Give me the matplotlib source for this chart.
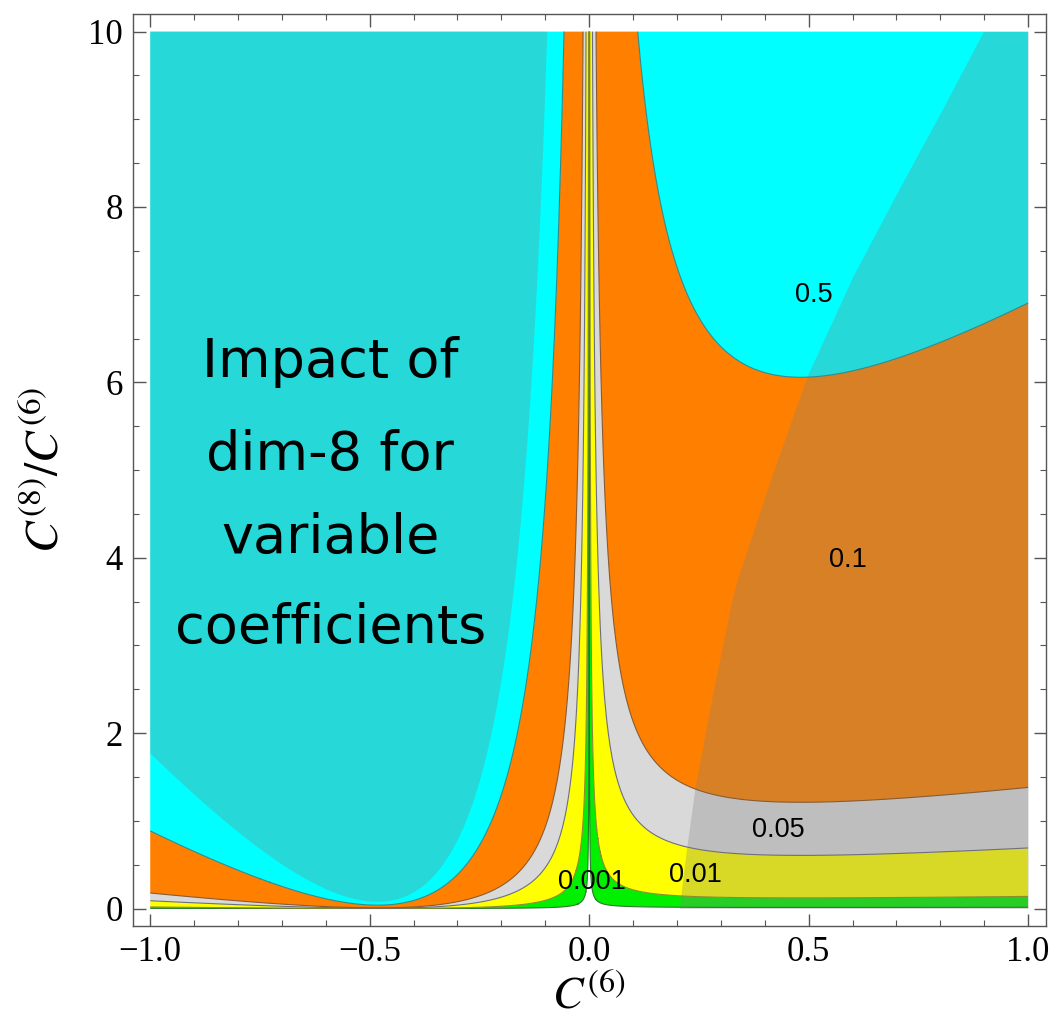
import numpy as np
import matplotlib
matplotlib.use("Agg")
import matplotlib.pyplot as plt
from matplotlib.ticker import MultipleLocator, FuncFormatter

plt.rcParams['mathtext.fontset'] = 'stix'

# impact of the dim-8 term:
# f = |C6| * r / (e0 + e1*C6 + e2*C6^2), r = C8/C6
e0, e1, e2 = 1.47, 6.02, 6.32

levels = [0.001, 0.01, 0.05, 0.1, 0.5]
level_labels = ['0.001', '0.01', '0.05', '0.1', '0.5']
fill_colors = ['#00f000', '#ffff00', '#d9d9d9', '#ff8000', '#00ffff']
line_colors = ['#2c7a2c', '#8c8c2a', '#6e6e7e', '#8a5a32', '#2f8a8a']
label_x = [0.007, 0.243, 0.43, 0.59, 0.511]
label_y = [0.30, 0.38, 0.89, 3.97, 7.0]

# shaded region on the left: f above this value
shade_level = 1.0
# shaded region on the right: boundary
shade_x = [0.205, 0.2224, 0.2413, 0.279, 0.325, 0.3365, 0.4126, 0.496, 0.60, 0.70, 0.80, 0.898]
shade_y = [0.0, 0.70, 1.385, 2.39, 3.516, 3.74, 4.886, 6.065, 7.2, 8.15, 9.07, 10.0]

note_lines = ['Impact of', 'dim-8 for', 'variable', 'coefficients']
note_y = [6.06, 5.0, 4.05, 3.03]

# grid, denser near C6 = 0 and r = 0
x = np.unique(np.concatenate([np.linspace(-1, 1, 1601), np.linspace(-0.03, 0.03, 601)]))
y = np.unique(np.concatenate([np.linspace(0, 10, 801), np.linspace(0, 0.4, 201)]))
X, Y = np.meshgrid(x, y)
F = np.abs(X) * Y / (e0 + e1 * X + e2 * X**2)

fig = plt.figure(figsize=(10.53, 10.27), dpi=100)
ax = fig.add_axes([0.126, 0.0983, 0.867, 0.888])

ax.contourf(X, Y, F, levels=levels + [F.max() + 1], colors=fill_colors, antialiased=True)
ax.contour(X, Y, F, levels=levels, colors=line_colors, linewidths=0.8)

# darker overlay
Fl = np.where(X < 0, F, 0)
ax.contourf(X, Y, Fl, levels=[shade_level, F.max() + 1], colors=['0.5'], alpha=0.3, antialiased=True)
ax.fill_betweenx(shade_y, shade_x, 1.0, color='0.5', alpha=0.3, lw=0)

for lab, lx, ly in zip(level_labels, label_x, label_y):
    ax.text(lx, ly, lab, ha='center', va='center', fontsize=19.5, family='Liberation Sans')

for line, ny in zip(note_lines, note_y):
    ax.text(-0.59, ny, line, ha='center', va='baseline', fontsize=39, family='DejaVu Sans')

ax.set_xlim(-1.04, 1.04)
ax.set_ylim(-0.2, 10.2)
ax.xaxis.set_major_locator(MultipleLocator(0.5))
ax.xaxis.set_minor_locator(MultipleLocator(0.1))
ax.xaxis.set_major_formatter(FuncFormatter(lambda v, p: ('%.1f' % v).replace('-', '\u2212')))
ax.yaxis.set_major_locator(MultipleLocator(2))
ax.yaxis.set_minor_locator(MultipleLocator(0.5))
ax.tick_params(which='both', direction='in', top=True, right=True, color='#555555')
ax.tick_params(which='major', length=9, width=1, pad=7)
ax.tick_params(which='minor', length=4.5, width=0.8)
for lab in ax.get_xticklabels() + ax.get_yticklabels():
    lab.set_family('Liberation Serif')
    lab.set_fontsize(25)
for sp in ax.spines.values():
    sp.set_color('#555555')
    sp.set_linewidth(1)

ax.set_xlabel(r'$C^{(6)}$', fontsize=33, labelpad=4)
ax.set_ylabel(r'$C^{(8)}/C^{(6)}$', fontsize=34, labelpad=14)

fig.savefig('out.png', dpi=100)
